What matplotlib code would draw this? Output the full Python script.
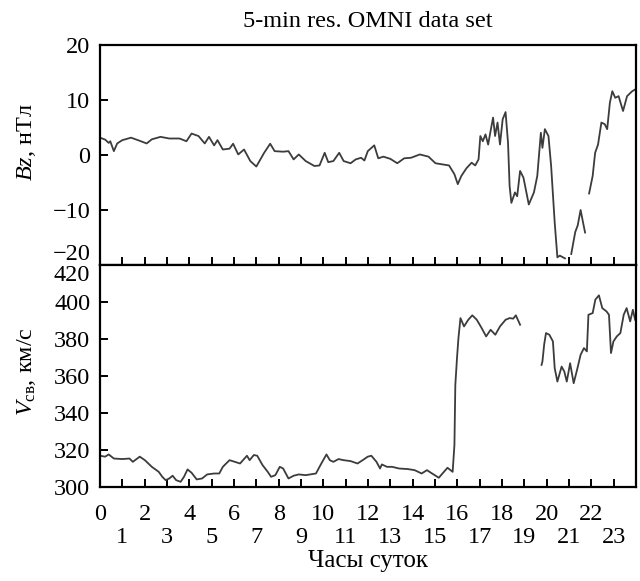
import numpy as np
import matplotlib
matplotlib.use("Agg")
import matplotlib.pyplot as plt
from matplotlib.ticker import FixedLocator

plt.rcParams["font.family"] = ["Liberation Serif", "DejaVu Serif"]
plt.rcParams["mathtext.fontset"] = "custom"
plt.rcParams["mathtext.rm"] = "Liberation Serif"
plt.rcParams["mathtext.it"] = "Liberation Serif:italic"

nan = np.nan

# Bz (nT) vs hour of day; NaN marks data gaps
bz_hours = [0.0, 0.23, 0.39, 0.46, 0.62, 0.77, 1.0, 1.39, 1.70, 2.09, 2.32, 2.71, 3.10,
            3.56, 3.87, 4.10, 4.41, 4.69, 4.88, 5.11, 5.26, 5.50, 5.80, 5.96, 6.19, 6.45,
            6.73, 7.0, 7.35, 7.62, 7.82, 8.2, 8.44, 8.67, 8.9, 9.21, 9.6, 9.83, 10.06,
            10.22, 10.45, 10.71, 10.91, 11.22, 11.45, 11.69, 11.84, 11.99, 12.28, 12.46,
            12.69, 13.0, 13.31, 13.62, 13.93, 14.32, 14.71, 15.02, 15.63, 15.87, 16.02,
            16.18, 16.41, 16.64, 16.80, 16.95, 17.03, 17.14, 17.26, 17.38, 17.49, 17.6,
            17.69, 17.8, 17.91, 18.03, 18.16, 18.27, 18.34, 18.42, 18.58, 18.68, 18.81,
            18.96, 19.20, 19.43, 19.58, 19.74, 19.81, 19.92, 20.08, 20.2, 20.36, 20.48,
            20.59, 20.82, 20.95, 21.1, 21.28, 21.39, 21.52, 21.63, 21.72, 21.8, 21.9,
            22.06, 22.17, 22.3, 22.45, 22.6, 22.71, 22.83, 22.94, 23.07, 23.22, 23.42,
            23.6, 23.83, 24.0]
bz_values = [3.15, 2.8, 2.2, 2.5, 0.7, 2.1, 2.7, 3.15, 2.7, 2.1, 2.85, 3.3, 3.0,
             3.0, 2.5, 3.9, 3.45, 2.1, 3.3, 1.75, 2.7, 1.0, 1.15, 2.05, 0.1, 1.0,
             -1.1, -2.1, 0.4, 2.05, 0.7, 0.6, 0.7, -0.8, 0.1, -1.1, -2.0, -1.9, 0.4,
             -1.3, -1.1, 0.4, -1.1, -1.5, -0.8, -0.5, -1.0, 0.7, 1.75, -0.6,
             -0.3, -0.7, -1.5, -0.6, -0.5, 0.1, -0.3, -1.5, -1.9, -3.5, -5.3,
             -3.8, -2.4, -1.4, -1.9, -0.8, 3.45, 2.5, 3.75, 1.9, 4.4, 6.8,
             3.45, 5.9, 1.9, 6.5, 7.8, 2.2, -5.6, -8.7, -6.8, -7.5, -2.9,
             -4.1, -9.0, -6.8, -3.8, 4.05, 1.3, 4.7, 3.45, -2.0, -12.3, -18.6,
             -18.3, -18.8, nan, -18.0, -14.0, -12.8, -10.0, -12.3, -14.1, nan, -7.0,
             -3.8, 0.4, 1.9, 5.9, 5.6, 4.7, 9.5, 11.6, 10.4, 10.7, 8.0,
             10.7, 11.6, 12.0]

# solar wind speed (km/s) vs hour of day; NaN marks the data gap
v_hours = [0.0, 0.23, 0.39, 0.62, 1.0, 1.32, 1.47, 1.78, 2.01, 2.32, 2.63, 2.79, 2.94,
           3.1, 3.25, 3.41, 3.61, 3.76, 3.92, 4.1, 4.33, 4.57, 4.8, 5.11, 5.34, 5.5,
           5.8, 6.04, 6.27, 6.58, 6.7, 6.89, 7.04, 7.28, 7.51, 7.66, 7.85, 8.05, 8.2,
           8.44, 8.67, 8.9, 9.21, 9.67, 9.91, 10.14, 10.29, 10.45, 10.68, 10.91, 11.22,
           11.53, 11.76, 11.99, 12.15, 12.38, 12.54, 12.62, 12.85, 13.08, 13.39, 13.78,
           14.09, 14.4, 14.64, 14.87, 15.17, 15.4, 15.56, 15.79, 15.87, 15.91, 15.99,
           16.05, 16.14, 16.30, 16.49, 16.67, 16.87, 17.07, 17.29, 17.49, 17.70, 17.91,
           18.16, 18.34, 18.5, 18.62, 18.81, 19.3, 19.77, 19.81, 19.89, 19.97, 20.12,
           20.28, 20.36, 20.48, 20.67, 20.79, 20.90, 21.05, 21.21, 21.36, 21.52, 21.67,
           21.80, 21.87, 22.06, 22.18, 22.34, 22.49, 22.68, 22.79, 22.88, 22.99, 23.14,
           23.30, 23.45, 23.58, 23.74, 23.86, 23.96]
v_values = [316.9, 316.4, 317.6, 315.4, 315.1, 315.4, 313.6, 316.4, 314.5, 310.9, 308.2,
            305.5, 303.7, 304.6, 306.1, 303.7, 302.8, 305.5, 309.5, 307.7, 304.1, 304.6,
            306.8, 307.3, 307.3, 310.9, 314.5, 313.6, 312.7, 316.9, 314.5, 317.3, 316.9,
            311.8, 308.2, 305.5, 306.4, 310.9, 310.0, 304.6, 306.1, 306.8, 306.4, 307.3,
            312.7, 317.6, 314.5, 313.6, 315.1, 314.5, 314.0, 312.7, 314.5, 316.4, 316.9,
            313.6, 310.0, 312.2, 310.9, 310.9, 310.0, 309.7, 309.1, 307.3, 309.1, 307.3,
            305.0, 308.2, 310.4, 308.2, 322.7, 355.2, 370.6, 380.5, 391.3, 386.8, 390.4,
            392.8, 390.4, 386.3, 381.4, 385.0, 382.3, 386.8, 390.4, 391.3, 391.0, 392.8,
            387.7, nan, 366.0, 367.8, 377.2, 383.2, 382.3, 378.7, 364.2, 357.0, 365.1,
            362.4, 357.0, 366.9, 356.1, 363.3, 371.5, 375.1, 373.3, 393.1, 394.0, 401.3,
            403.6, 396.7, 394.9, 393.1, 372.4, 378.7, 381.4, 383.2, 393.1, 396.7, 389.5,
            395.8, 390.4]

bz_ticks = [-20, -10, 0, 10, 20]
bz_labels = ["\u221220", "\u221210", "0", "10", "20"]
v_ticks = [300, 320, 340, 360, 380, 400, 420]
v_labels = ["300", "320", "340", "360", "380", "400", "420"]
even_hours = list(range(0, 24, 2))
odd_hours = list(range(1, 24, 2))

LINE = "#3c3c3c"
FS = 17.5

fig = plt.figure(figsize=(6.40, 5.81), dpi=100)
ax1 = fig.add_axes([100 / 640, 1 - 265 / 581, 536 / 640, 220 / 581])
ax2 = fig.add_axes([100 / 640, 1 - 487 / 581, 536 / 640, 222 / 581])

ax1.plot(bz_hours, bz_values, color=LINE, lw=1.3)
ax2.plot(v_hours, v_values, color=LINE, lw=1.3)

for ax in (ax1, ax2):
    ax.set_xlim(0, 24)
    for s in ax.spines.values():
        s.set_linewidth(1.6)
    ax.xaxis.set_major_locator(FixedLocator(even_hours))
    ax.xaxis.set_minor_locator(FixedLocator(odd_hours))
    ax.tick_params(axis="both", which="both", direction="in", length=6, width=1.4,
                   labelsize=FS, top=False, right=False)
    ax.tick_params(axis="y", pad=7)

ax1.set_ylim(-20, 20)
ax1.set_yticks(bz_ticks, bz_labels)
ax1.tick_params(axis="x", which="both", labelbottom=False)
ax1.yaxis.get_major_ticks()[0].label1.set_va("bottom")
ax1.set_title("5-min res. OMNI data set", fontsize=FS, pad=13)

ax2.set_ylim(300, 420)
ax2.set_yticks(v_ticks, v_labels)
ax2.yaxis.get_major_ticks()[-1].label1.set_va("top")
ax2.set_xticks(even_hours, [str(h) for h in even_hours])
ax2.set_xticks(odd_hours, [str(h) for h in odd_hours], minor=True)
ax2.tick_params(axis="x", which="major", pad=12)
ax2.tick_params(axis="x", which="minor", pad=29)

ax1.set_ylabel(r"$Bz$, нТл", fontsize=FS)
ax1.yaxis.set_label_coords(-0.115, 0.56)
ax2.set_ylabel(r"$V_{\mathrm{св}}$, км/с", fontsize=FS)
ax2.yaxis.set_label_coords(-0.115, 0.52)
ax2.set_xlabel("Часы суток", fontsize=FS + 0.5, labelpad=1)

fig.savefig("out.png", dpi=100)
